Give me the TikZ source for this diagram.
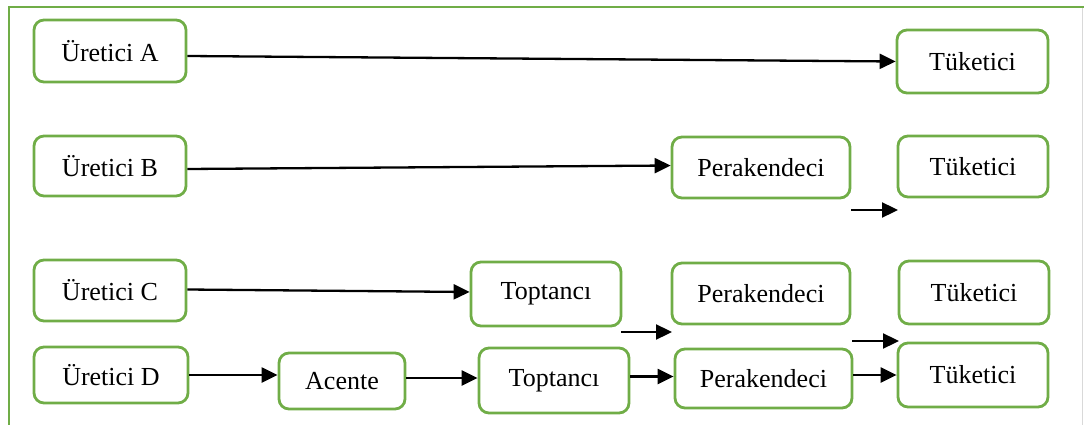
\documentclass[tikz,border=0pt]{standalone}
\usepackage{fontspec}
\setmainfont{Liberation Serif}
\usetikzlibrary{arrows.meta}
\definecolor{kutuyesil}{RGB}{112,173,71}
\tikzset{
    kutu/.style={draw=kutuyesil, line width=2.8pt, rounded corners=10pt,
        inner sep=0pt, font=\fontsize{26}{30}\selectfont},
    ok/.style={line width=2.3pt, -{Triangle[length=16pt,width=15pt]}}
}
\begin{document}
\begin{tikzpicture}[x=1pt, y=-1pt]
    \useasboundingbox (0,0) rectangle (1084,425);
    % Çerçeve
    \draw[kutuyesil, line width=2.8pt] (9,425) -- (9,7) -- (1084,7);
    \draw[black!15, line width=1pt] (1082,8) -- (1082,425);

    % Üretici A
    \node[kutu, minimum width=152pt, minimum height=62pt] (uA) at (110,51) {Üretici A};
    \node[kutu, minimum width=151pt, minimum height=63pt] (tA) at (972.5,61.5) {Tüketici};
    \draw[ok] ([yshift=-5pt]uA.east) -- (tA.west);

    % Üretici B
    \node[kutu, minimum width=152pt, minimum height=60pt] (uB) at (110,166) {Üretici B};
    \node[kutu, minimum width=178pt, minimum height=61pt] (pB) at (761,167.5) {Perakendeci};
    \node[kutu, minimum width=150pt, minimum height=61pt] (tB) at (973,166.5) {Tüketici};
    \draw[ok] ([yshift=-3pt]uB.east) -- ([yshift=2pt]pB.west);
    \coordinate (bs) at (851,210);
    \coordinate (be) at (898,210);
    \draw[ok] (bs) -- (be);

    % Üretici C
    \node[kutu, minimum width=152pt, minimum height=61pt] (uC) at (110,290.5) {Üretici C};
    \node[kutu, minimum width=150pt, minimum height=64pt] (toC) at (546,294) {Toptancı};
    \node[kutu, minimum width=178pt, minimum height=61pt] (pC) at (761,293.5) {Perakendeci};
    \node[kutu, minimum width=150pt, minimum height=63pt] (tC) at (974,292.5) {Tüketici};
    \draw[ok] ([yshift=1pt]uC.east) -- ([yshift=2pt]toC.west);
    \coordinate (cs1) at (621,332);
    \coordinate (ce1) at (672,332);
    \draw[ok] (cs1) -- (ce1);
    \coordinate (cs2) at (852,341);
    \coordinate (ce2) at (899,341);
    \draw[ok] (cs2) -- (ce2);

    % Üretici D
    \node[kutu, minimum width=154pt, minimum height=56pt] (uD) at (111,375) {Üretici D};
    \node[kutu, minimum width=126pt, minimum height=56pt] (acD) at (342,381) {Acente};
    \node[kutu, minimum width=150pt, minimum height=65pt] (toD) at (554,380.5) {Toptancı};
    \node[kutu, minimum width=177pt, minimum height=59pt] (pD) at (763.5,378.5) {Perakendeci};
    \node[kutu, minimum width=150pt, minimum height=64pt] (tD) at (973,375) {Tüketici};
    \draw[ok] (uD.east) -- (uD.east -| acD.west);
    \draw[ok] ([yshift=3pt]acD.east) -- ([yshift=3pt]acD.east -| toD.west);
    \draw[ok] ([yshift=4pt]toD.east) -- ([yshift=4pt]toD.east -| pD.west);
    \draw[ok] (pD.east |- tD.west) -- (tD.west);
\end{tikzpicture}
\end{document}
